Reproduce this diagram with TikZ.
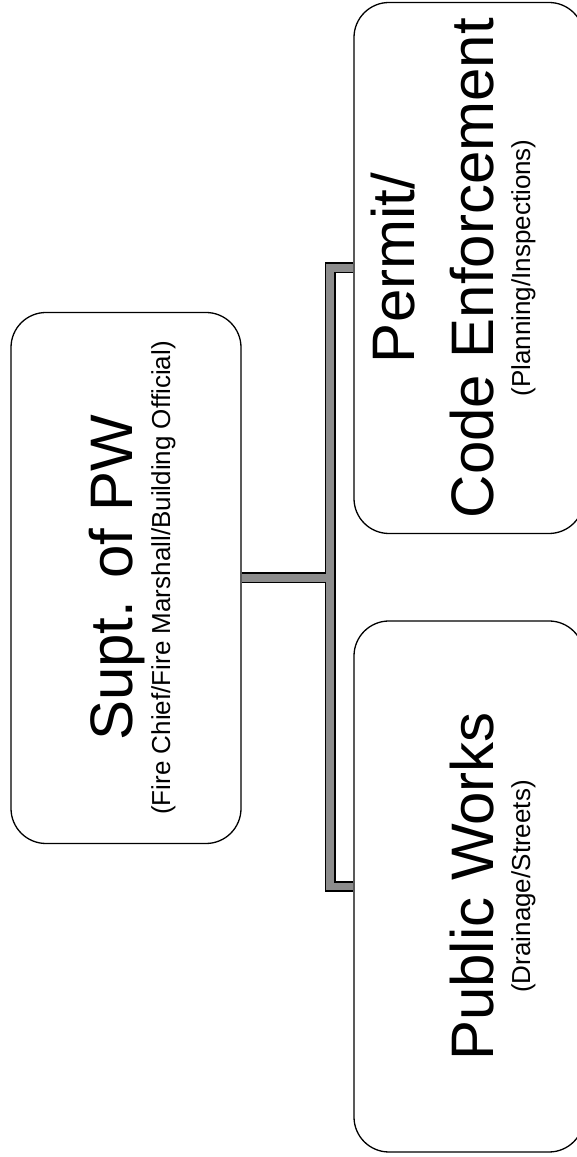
\documentclass[tikz,border=0pt]{standalone}
\usepackage{fontspec}
\setmainfont{Liberation Sans}
\begin{document}
\begin{tikzpicture}[x=1pt,y=1pt,
  unit/.style={draw=black, line width=1.3pt, rounded corners=35pt, rotate=90,
    minimum width=531pt, minimum height=230pt, inner sep=0pt},
  title/.style={rotate=90, anchor=base, inner sep=0pt, font=\fontsize{60}{60}\selectfont},
  remark/.style={rotate=90, anchor=base, inner sep=0pt, font=\fontsize{26}{30}\selectfont},
  linkedge/.style={draw=black, line width=11pt, line join=miter},
  linkfill/.style={draw=black!45, line width=7.5pt, line join=miter}]
\useasboundingbox (0,0) rectangle (576,1157);

% organisational units, rotated a quarter turn
\node[unit] (supt) at (126,579) {};
\node[unit] (permit) at (469,889) {};
\node[unit] (works) at (469,270.5) {};

% unit titles and remits (baselines run vertically)
\node[title]  (supt-name)    at (132,579) {Supt. of PW};
\node[remark] (supt-remit)   at (170,579) {(Fire Chief/Fire Marshall/Building Official)};
\node[title]  (permit-name1) at (414,889) {Permit/};
\node[title]  (permit-name2) at (493,889) {Code Enforcement};
\node[remark] (permit-remit) at (530,889) {(Planning/Inspections)};
\node[title]  (works-name)   at (493,270.5) {Public Works};
\node[remark] (works-remit)  at (530,270.5) {(Drainage/Streets)};

% reporting lines
\coordinate (spine) at (330,579);
\draw[linkedge] (permit.north) -| (spine) |- (works.north);
\draw[linkedge] (supt.south) -- (spine);
\draw[linkfill] (permit.north) -| (spine) |- (works.north);
\draw[linkfill] (supt.south) -- (spine);
\end{tikzpicture}
\end{document}
